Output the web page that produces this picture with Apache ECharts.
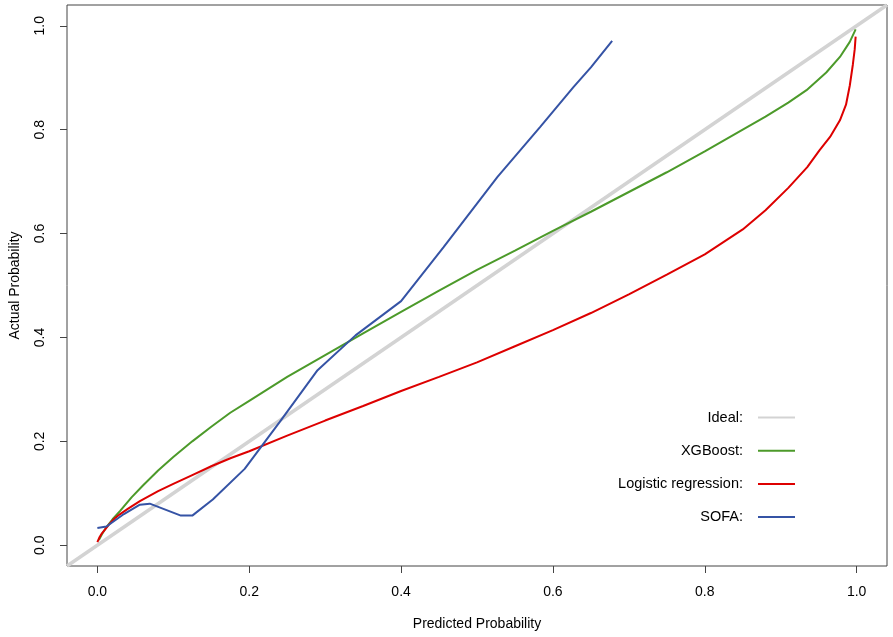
<!DOCTYPE html>
<html>
<head>
<meta charset="utf-8">
<script src="https://cdn.jsdelivr.net/npm/echarts@6/dist/echarts.min.js"></script>
<style>
html,body{margin:0;padding:0;background:#fff;}
#chart{width:893px;height:637px;}
</style>
</head>
<body>
<div id="chart"></div>
<script>
const tickValues = [0, 0.2, 0.4, 0.6, 0.8, 1.0];
const seriesNames = ['Ideal:', 'XGBoost:', 'Logistic regression:', 'SOFA:'];

const idealData = [[-0.04, -0.04], [1.04, 1.04]];

const xgboostData = [
  [0.002, 0.010], [0.006, 0.021], [0.012, 0.035], [0.02, 0.050], [0.03, 0.066],
  [0.045, 0.092], [0.06, 0.115], [0.08, 0.144], [0.1, 0.170], [0.125, 0.200],
  [0.15, 0.228], [0.175, 0.255], [0.2, 0.278], [0.25, 0.324], [0.3, 0.366],
  [0.35, 0.408], [0.4, 0.449], [0.45, 0.490], [0.5, 0.530], [0.55, 0.567],
  [0.6, 0.605], [0.65, 0.642], [0.7, 0.680], [0.75, 0.718], [0.8, 0.758],
  [0.85, 0.800], [0.88, 0.825], [0.91, 0.852], [0.934, 0.876], [0.96, 0.910],
  [0.978, 0.940], [0.991, 0.969], [0.9987, 0.993]
];

const logisticData = [
  [0.000, 0.006], [0.003, 0.016], [0.006, 0.023], [0.01, 0.030], [0.016, 0.041],
  [0.023, 0.052], [0.03, 0.060], [0.04, 0.070], [0.056, 0.085], [0.08, 0.104],
  [0.1, 0.118], [0.125, 0.135], [0.15, 0.152], [0.176, 0.168], [0.2, 0.181],
  [0.25, 0.211], [0.3, 0.240], [0.35, 0.268], [0.4, 0.297], [0.45, 0.324],
  [0.5, 0.352], [0.55, 0.383], [0.6, 0.414], [0.65, 0.447], [0.7, 0.483],
  [0.75, 0.521], [0.8, 0.560], [0.85, 0.608], [0.88, 0.645], [0.91, 0.688],
  [0.935, 0.728], [0.951, 0.760], [0.965, 0.786], [0.978, 0.818], [0.986, 0.848],
  [0.991, 0.885], [0.995, 0.925], [0.9975, 0.955], [0.9987, 0.979]
];

const sofaData = [
  [0.0, 0.033], [0.012, 0.036], [0.035, 0.060], [0.056, 0.078], [0.069, 0.080],
  [0.110, 0.057], [0.125, 0.057], [0.152, 0.088], [0.194, 0.147], [0.24, 0.237],
  [0.290, 0.337], [0.340, 0.404], [0.400, 0.470], [0.456, 0.574], [0.527, 0.709],
  [0.583, 0.805], [0.627, 0.882], [0.65, 0.920], [0.678, 0.971]
];

const colors = ['#d3d3d3', '#4c9a2a', '#dd0000', '#3553a5'];
const FONT = "'Liberation Sans', Arial, sans-serif";
const axisColor = '#444';

const chart = echarts.init(document.getElementById('chart'), null, {renderer: 'canvas'});

function axisCommon(isY) {
  return {
    type: 'value',
    min: -0.04,
    max: 1.04,
    splitLine: {show: false},
    axisLine: {show: false, onZero: false},
    axisTick: {show: true, inside: false, length: 7, customValues: tickValues,
      lineStyle: {color: axisColor, width: 1}},
    axisLabel: {
      customValues: tickValues,
      formatter: v => v.toFixed(1),
      color: '#000', fontSize: 14, fontFamily: FONT,
      margin: isY ? 20 : 19,
      rotate: isY ? 90 : 0
    },
    nameLocation: 'middle',
    nameTextStyle: {color: '#000', fontSize: 14, fontFamily: FONT}
  };
}

const xAxis = Object.assign(axisCommon(false), {name: 'Predicted Probability', nameGap: 51});
const yAxis = Object.assign(axisCommon(true), {name: 'Actual Probability', nameGap: 45});

chart.setOption({
  animation: false,
  backgroundColor: '#fff',
  textStyle: {fontFamily: FONT},
  grid: {left: 65, right: 6, top: 5, bottom: 71, show: true,
    borderColor: axisColor, borderWidth: 1, backgroundColor: 'transparent'},
  xAxis: xAxis,
  yAxis: yAxis,
  legend: {
    orient: 'vertical',
    align: 'right',
    right: 93,
    top: 405,
    icon: 'rect',
    itemWidth: 37,
    itemHeight: 2,
    itemGap: 18.2,
    selectedMode: false,
    textStyle: {color: '#000', fontSize: 14.5, fontFamily: FONT, lineHeight: 14, padding: [0, 10, 0, 0]},
    data: seriesNames
  },
  series: [
    {name: seriesNames[0], type: 'line', data: idealData, showSymbol: false, symbol: 'none',
      lineStyle: {color: colors[0], width: 3.5}, itemStyle: {color: colors[0]}, z: 1},
    {name: seriesNames[1], type: 'line', data: xgboostData, showSymbol: false, symbol: 'none',
      lineStyle: {color: colors[1], width: 2}, itemStyle: {color: colors[1]}, z: 2},
    {name: seriesNames[2], type: 'line', data: logisticData, showSymbol: false, symbol: 'none',
      lineStyle: {color: colors[2], width: 2}, itemStyle: {color: colors[2]}, z: 3},
    {name: seriesNames[3], type: 'line', data: sofaData, showSymbol: false, symbol: 'none',
      lineStyle: {color: colors[3], width: 2}, itemStyle: {color: colors[3]}, z: 4}
  ]
});
</script>
</body>
</html>
